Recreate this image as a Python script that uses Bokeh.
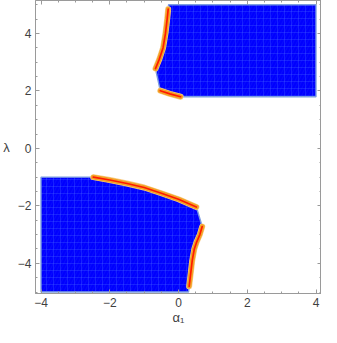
from bokeh.plotting import figure
from bokeh.models import Range1d, LinearAxis, FixedTicker, CustomLabelingPolicy
from bokeh.embed import file_html
from bokeh.resources import INLINE

# ---- data ----
x_major = [-4, -2, 0, 2, 4]
y_major = [-4, -2, 0, 2, 4]
x_minor = [-4.0, -3.5, -3.0, -2.5, -2.0, -1.5, -1.0, -0.5, 0.0, 0.5, 1.0, 1.5, 2.0, 2.5, 3.0, 3.5, 4.0]
y_minor = [-5.0, -4.5, -4.0, -3.5, -3.0, -2.5, -2.0, -1.5, -1.0, -0.5, 0.0, 0.5, 1.0, 1.5, 2.0, 2.5, 3.0, 3.5, 4.0, 4.5, 5.0]
tick_labels = {-4: "\u22124", -2: "\u22122", 0: "0", 2: "2", 4: "4"}

# upper region boundary pieces
upper_left_x = [-0.29, -0.30, -0.33, -0.38, -0.45, -0.56, -0.67]
upper_left_y = [5.00, 4.85, 4.50, 4.00, 3.50, 3.10, 2.78]
upper_corner_x = [-0.66]
upper_corner_y = [2.72]
upper_bottom_x = [-0.53, -0.25, 0.06]
upper_bottom_y = [2.01, 1.90, 1.80]
upper_box_x = [4.0, 4.0]
upper_box_y = [1.80, 5.00]

# lower region boundary pieces
lower_box_x = [-4.0, -4.0]
lower_box_y = [-5.0, -1.0]
lower_top_x = [-2.48, -2.0, -1.5, -1.0, -0.5, 0.0, 0.52]
lower_top_y = [-1.00, -1.10, -1.22, -1.36, -1.56, -1.77, -2.04]
lower_right_x = [0.69, 0.62, 0.53, 0.46, 0.40, 0.35, 0.31, 0.29]
lower_right_y = [-2.72, -3.00, -3.25, -3.50, -3.90, -4.40, -4.80, -5.00]

upper_x = upper_left_x + upper_corner_x + upper_bottom_x + upper_box_x
upper_y = upper_left_y + upper_corner_y + upper_bottom_y + upper_box_y
lower_x = lower_box_x + lower_top_x + lower_right_x
lower_y = lower_box_y + lower_top_y + lower_right_y

curves = [
    (upper_left_x[1:], upper_left_y[1:]),
    (upper_bottom_x, upper_bottom_y),
    (lower_top_x, lower_top_y),
    (lower_right_x[:-1], lower_right_y[:-1]),
]

FRAME = "#9a9a9a"
TXT = "#3f3f3f"
FONT = "Liberation Sans"

p = figure(width=321, height=327, output_backend="svg", toolbar_location=None,
           x_range=Range1d(-4.16, 4.16), y_range=Range1d(-5.05, 5.15),
           min_border_left=0, min_border_right=0, min_border_top=0, min_border_bottom=0)
p.grid.visible = False
p.outline_line_color = FRAME
p.background_fill_color = "white"
p.border_fill_color = "white"

for xs, ys in [(upper_x, upper_y), (lower_x, lower_y)]:
    p.patch(xs, ys, fill_color="#0000ff", line_color="#7d9ee0", line_width=1.4,
            hatch_pattern="+", hatch_color="#3a58ff", hatch_alpha=0.45,
            hatch_scale=7, hatch_weight=0.8)
    p.patch(xs, ys, fill_alpha=0, line_alpha=0,
            hatch_pattern="/", hatch_color="#3a58ff", hatch_alpha=0.22,
            hatch_scale=7, hatch_weight=0.6)

for xs, ys in curves:
    p.line(xs, ys, line_color="#f8cc88", line_width=6, line_cap="round")
    p.line(xs, ys, line_color="#f3a226", line_width=4.8, line_cap="round")
    p.line(xs, ys, line_color="#ff1a00", line_width=1.7, line_cap="round")

hide_all = CustomLabelingPolicy(code="return new Set()")
blank_labels = {t: "" for t in tick_labels}

def style(ax, ticks, minor, labels=True):
    ax.ticker = FixedTicker(ticks=ticks, minor_ticks=minor)
    ax.axis_line_color = FRAME
    ax.major_tick_line_color = FRAME
    ax.minor_tick_line_color = FRAME
    ax.major_tick_in = 4
    ax.major_tick_out = 0
    ax.minor_tick_in = 2
    ax.minor_tick_out = 0
    if labels:
        ax.major_label_overrides = tick_labels
        ax.major_label_text_font = FONT
        ax.major_label_text_font_size = "12px"
        ax.major_label_text_color = TXT
        ax.major_label_standoff = 4
        ax.axis_label_text_font = FONT
        ax.axis_label_text_font_size = "13px"
        ax.axis_label_text_font_style = "normal"
        ax.axis_label_text_color = TXT
    else:
        ax.major_label_overrides = blank_labels
        ax.major_label_text_font_size = "1px"
        ax.major_label_policy = hide_all
        ax.major_label_standoff = 0

xa = p.xaxis[0]
ya = p.yaxis[0]
style(xa, x_major, x_minor)
style(ya, y_major, y_minor)
xa.axis_label = "\u03b1\u2081"
xa.major_label_standoff = 4
xa.axis_label_standoff = 0
ya.axis_label = "\u03bb"
ya.axis_label_standoff = 5
ya.axis_label_orientation = "horizontal"

top = LinearAxis()
right = LinearAxis()
style(top, x_major, x_minor, labels=False)
style(right, y_major, y_minor, labels=False)
p.add_layout(top, "above")
p.add_layout(right, "right")

open("out.html", "w").write(file_html(p, INLINE))
